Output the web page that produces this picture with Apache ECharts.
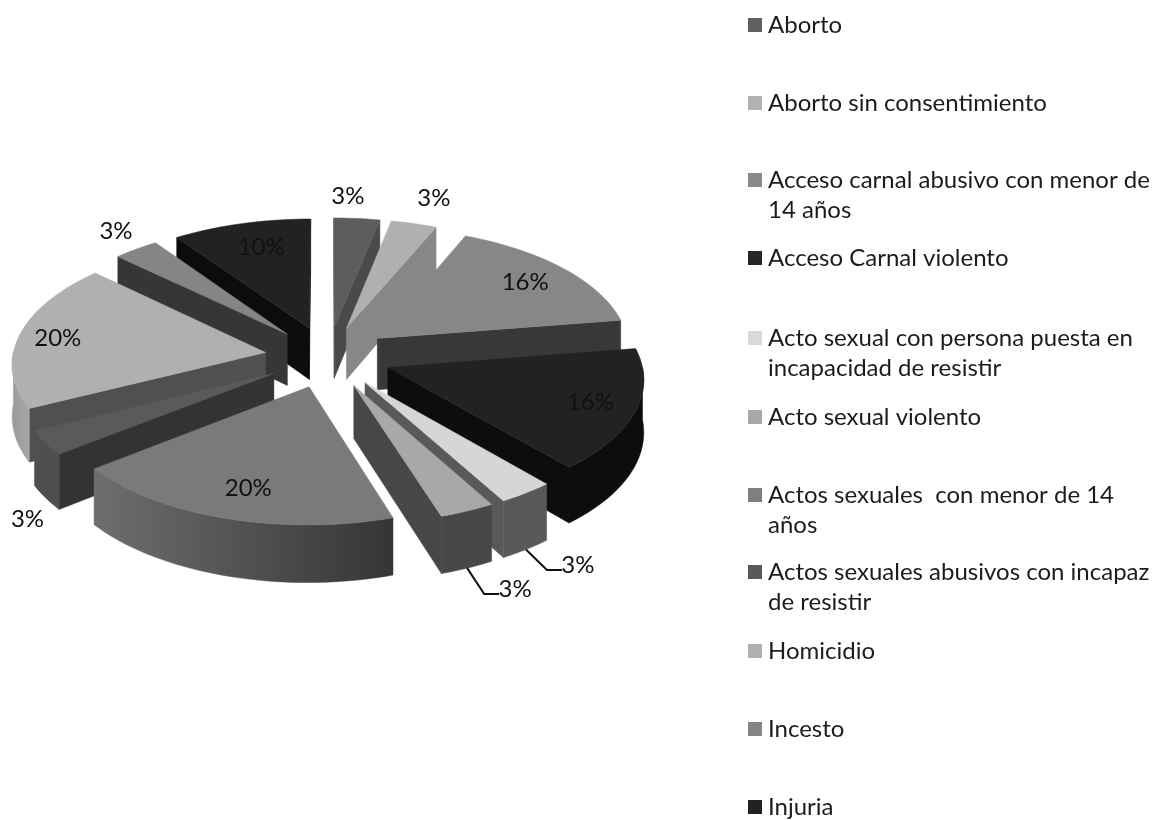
<!DOCTYPE html>
<html>
<head>
<meta charset="utf-8">
<title>Delitos</title>
<script src="https://cdn.jsdelivr.net/npm/echarts@6/dist/echarts.min.js"></script>
<style>
  html, body { margin: 0; padding: 0; background: #fff; }
  #chart { width: 1154px; height: 820px; }
</style>
</head>
<body>
<div id="chart"></div>
<script>
// Categories in pie order, clockwise from 12 o'clock
const categories = [
  'Aborto',
  'Aborto sin consentimiento',
  'Acceso carnal abusivo con menor de\n14 años',
  'Acceso Carnal violento',
  'Acto sexual con persona puesta en\nincapacidad de resistir',
  'Acto sexual violento',
  'Actos sexuales  con menor de 14\naños',
  'Actos sexuales abusivos con incapaz\nde resistir',
  'Homicidio',
  'Incesto',
  'Injuria'
];
const shares = [3.2, 3.2, 16.1, 16.1, 3.2, 3.2, 19.4, 3.2, 19.4, 3.2, 9.7];
// Labels as printed on the chart
const shareLabels = ['3%', '3%', '16%', '16%', '3%', '3%', '20%', '3%', '20%', '3%', '10%'];

// Shades of the faces
const topColors = ['#5d5d5d', '#b0b0b0', '#878787', '#222222', '#d6d6d6', '#a8a8a8', '#7a7a7a', '#5a5a5a', '#b0b0b0', '#858585', '#222222'];
const wallColors = ['#4a4a4a', '#878787', '#383838', '#0d0d0d', '#595959', '#474747', '#353535', '#333333', '#505050', '#363636', '#0c0c0c'];
const arcColors = [
  ['#4a4a4a', '#4a4a4a'], ['#878787', '#878787'], ['#383838', '#383838'], ['#0d0d0d', '#0d0d0d'],
  ['#595959', '#595959'], ['#474747', '#474747'], ['#6e6e6e', '#353535'], ['#4f4f4f', '#4f4f4f'],
  ['#9a9a9a', '#a6a6a6'], ['#363636', '#363636'], ['#0c0c0c', '#0c0c0c']
];
const swatchColors = ['#5f5f5f', '#b2b2b2', '#8a8a8a', '#262626', '#d9d9d9', '#a8a8a8', '#7f7f7f', '#595959', '#b0b0b0', '#858585', '#222222'];

// Pie projection
const cx = 328, cy = 357, rx = 253, ry = 122.3, persp = 0.0788, depth = 52, explode = 0.25;
// Label shift from the outer middle of each slice, px
const labelShift = [[-9, -22], [20, -25], [-38, 14], [-45, -9], [52, 72], [48, 78], [23, -30], [-18, 76], [38, 4], [-20, -18], [20, 24]];
const leaderSlices = [4, 5];
// Legend rows, y of the first line
const legendRows = [25, 103, 180, 258, 338, 417, 495, 572, 651, 729, 807];
const fontFamily = 'Lato, "Open Sans", sans-serif';

const total = shares.reduce((a, b) => a + b, 0);
const rad = d => d * Math.PI / 180;
let acc = 0;
const spans = shares.map(v => {
  const a0 = acc / total * 360;
  acc += v;
  return [a0, acc / total * 360];
});

// u to the right, v towards the viewer, both in pie radii
function project(u, v, down) {
  const s = 1 / (1 - persp * v);
  return [cx + rx * u * s, cy + ry * v * s + (down ? depth * s : 0)];
}

function slicePoint(i, r, angle, down) {
  const mid = rad((spans[i][0] + spans[i][1]) / 2);
  const a = rad(angle);
  return project(
    explode * Math.sin(mid) + r * Math.sin(a),
    -explode * Math.cos(mid) - r * Math.cos(a),
    down
  );
}

function arcAngles(a0, a1) {
  const out = [];
  const n = Math.max(2, Math.ceil((a1 - a0) / 2));
  for (let k = 0; k <= n; k++) out.push(a0 + (a1 - a0) * k / n);
  return out;
}

function wallVisible(apex, edge, inner) {
  const dx = edge[0] - apex[0], dy = edge[1] - apex[1];
  const crossInner = dx * (inner[1] - apex[1]) - dy * (inner[0] - apex[0]);
  return crossInner * dx < 0;
}

function polygon(points, fill) {
  return { type: 'polygon', shape: { points: points }, style: { fill: fill, stroke: fill, lineWidth: 0.5 } };
}

function renderSlice(params, api) {
  const i = api.value(0);
  const a0 = spans[i][0], a1 = spans[i][1];
  const mid = (a0 + a1) / 2;
  const apex = slicePoint(i, 0, 0, false);
  const apexLow = slicePoint(i, 0, 0, true);
  const inner = slicePoint(i, 1, mid, false);
  const children = [];

  [a0, a1].forEach(angle => {
    const edge = slicePoint(i, 1, angle, false);
    if (wallVisible(apex, edge, inner)) {
      children.push(polygon([apex, edge, slicePoint(i, 1, angle, true), apexLow], wallColors[i]));
    }
  });

  const b0 = Math.max(a0, 90), b1 = Math.min(a1, 270);
  if (b1 > b0) {
    const angles = arcAngles(b0, b1);
    const upper = angles.map(a => slicePoint(i, 1, a, false));
    const lower = angles.map(a => slicePoint(i, 1, a, true)).reverse();
    const fill = new echarts.graphic.LinearGradient(0, 0, 1, 0, [
      { offset: 0, color: arcColors[i][0] },
      { offset: 1, color: arcColors[i][1] }
    ]);
    children.push(polygon(upper.concat(lower), fill));
  }

  const top = [apex].concat(arcAngles(a0, a1).map(a => slicePoint(i, 1, a, false)));
  children.push(polygon(top, topColors[i]));

  const anchor = slicePoint(i, 1, mid, false);
  const lx = anchor[0] + labelShift[i][0], ly = anchor[1] + labelShift[i][1];
  if (leaderSlices.includes(i)) {
    const from = slicePoint(i, 1, mid, true);
    children.push({
      type: 'polyline',
      z2: 50,
      shape: { points: [from, [lx - 31, ly + 5], [lx - 16, ly + 5]] },
      style: { stroke: '#111', lineWidth: 2, fill: null }
    });
  }
  children.push({
    type: 'text',
    z2: 60,
    style: {
      text: shareLabels[i], x: lx, y: ly, align: 'center', verticalAlign: 'middle',
      fill: '#111', fontFamily: fontFamily, fontSize: 24
    }
  });
  return { type: 'group', children: children };
}

// Back slices first
const drawOrder = shares.map((v, i) => i).sort((p, q) => {
  const m = i => -Math.cos(rad((spans[i][0] + spans[i][1]) / 2));
  return m(p) - m(q);
});

const legendItems = [];
categories.forEach((name, i) => {
  legendItems.push({
    type: 'rect', left: 748, top: legendRows[i] - 7,
    shape: { width: 14, height: 14 }, style: { fill: swatchColors[i] }
  });
  legendItems.push({
    type: 'text', left: 768, top: legendRows[i] - 15,
    style: { text: name, fill: '#1c1c1c', fontFamily: fontFamily, fontSize: 24, lineHeight: 30 }
  });
});

const myChart = echarts.init(document.getElementById('chart'));
myChart.setOption({
  backgroundColor: '#fff',
  animation: false,
  tooltip: { show: false },
  graphic: legendItems,
  series: [{
    type: 'custom',
    coordinateSystem: 'none',
    silent: true,
    renderItem: renderSlice,
    encode: { value: [1] },
    data: drawOrder.map(i => [i, shares[i]])
  }]
});
</script>
</body>
</html>
